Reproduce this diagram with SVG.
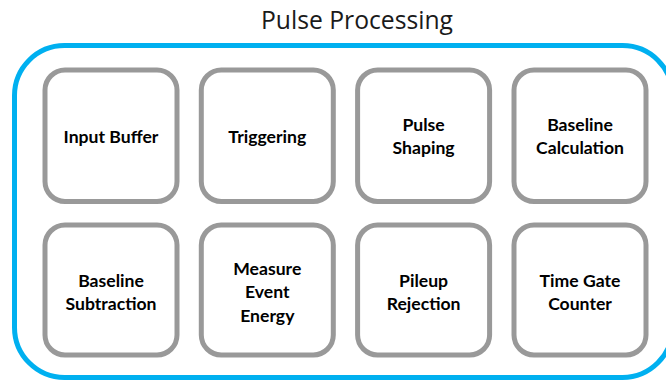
<svg xmlns="http://www.w3.org/2000/svg" width="666" height="381" viewBox="0 0 666 381">
<style>
.box{fill:#fff;stroke:#999;stroke-width:5}
.lbl{font-family:Lato,"Open Sans","Liberation Sans",sans-serif;font-weight:bold;font-size:17.6px;fill:#000;text-anchor:middle}
.title{font-family:"Open Sans","Liberation Sans",sans-serif;font-size:24.7px;fill:#1a1a1a;text-anchor:middle}
</style>
<rect width="666" height="381" fill="#fff"/>
<text class="title" x="357" y="29">Pulse Processing</text>
<g id="container"><rect x="14.5" y="45.5" width="658" height="332" rx="50" fill="none" stroke="#00B0F0" stroke-width="5"/></g>
<g id="connectors"/>
<g id="n1"><rect class="box" x="45" y="70" width="132" height="131.5" rx="20"/><text class="lbl" x="111" y="142.5">Input Buffer</text></g>
<g id="n2"><rect class="box" x="201.3" y="70" width="132" height="131.5" rx="20"/><text class="lbl" x="267.3" y="142.5">Triggering</text></g>
<g id="n3"><rect class="box" x="357.6" y="70" width="132" height="131.5" rx="20"/><text class="lbl" x="423.6" y="131">Pulse</text><text class="lbl" x="423.6" y="154.3">Shaping</text></g>
<g id="n4"><rect class="box" x="514" y="70" width="132" height="131.5" rx="20"/><text class="lbl" x="580" y="131">Baseline</text><text class="lbl" x="580" y="154.3">Calculation</text></g>
<g id="n5"><rect class="box" x="45" y="225" width="132" height="130" rx="20"/><text class="lbl" x="111" y="286.5">Baseline</text><text class="lbl" x="111" y="310">Subtraction</text></g>
<g id="n6"><rect class="box" x="201.3" y="225" width="132" height="130" rx="20"/><text class="lbl" x="267.3" y="275">Measure</text><text class="lbl" x="267.3" y="298.3">Event</text><text class="lbl" x="267.3" y="321.6">Energy</text></g>
<g id="n7"><rect class="box" x="357.6" y="225" width="132" height="130" rx="20"/><text class="lbl" x="423.6" y="286.5">Pileup</text><text class="lbl" x="423.6" y="310">Rejection</text></g>
<g id="n8"><rect class="box" x="514" y="225" width="132" height="130" rx="20"/><text class="lbl" x="580" y="286.5">Time Gate</text><text class="lbl" x="580" y="310">Counter</text></g>
</svg>
